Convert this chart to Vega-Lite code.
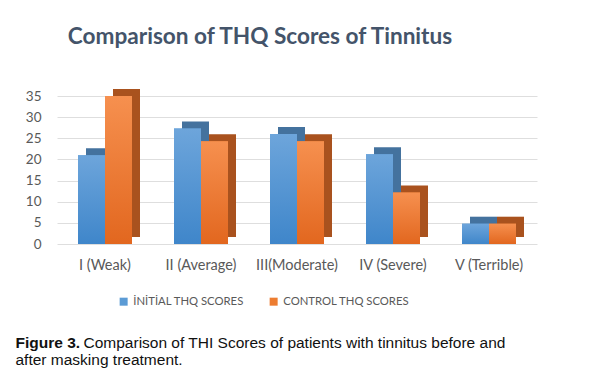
{
  "$schema": "https://vega.github.io/schema/vega-lite/v6.json",
  "autosize": {"type": "none"},
  "width": 480,
  "height": 148,
  "padding": {"left": 57, "top": 96, "right": 56, "bottom": 139},
  "background": "white",
  "title": {
    "text": "Comparison of THQ Scores of Tinnitus",
    "font": "Lato",
    "fontSize": 22.6,
    "fontWeight": "bold",
    "color": "#44546A",
    "anchor": "middle",
    "dx": -37,
    "offset": 40
  },
  "data": {
    "values": [
      {"grade": "I (Weak)", "series": "İNİTİAL THQ SCORES", "score": 21},
      {"grade": "I (Weak)", "series": "CONTROL THQ SCORES", "score": 35},
      {"grade": "II (Average)", "series": "İNİTİAL THQ SCORES", "score": 27.3},
      {"grade": "II (Average)", "series": "CONTROL THQ SCORES", "score": 24.3},
      {"grade": "III(Moderate)", "series": "İNİTİAL THQ SCORES", "score": 26},
      {"grade": "III(Moderate)", "series": "CONTROL THQ SCORES", "score": 24.3},
      {"grade": "IV (Severe)", "series": "İNİTİAL THQ SCORES", "score": 21.2},
      {"grade": "IV (Severe)", "series": "CONTROL THQ SCORES", "score": 12.2},
      {"grade": "V (Terrible)", "series": "İNİTİAL THQ SCORES", "score": 4.8},
      {"grade": "V (Terrible)", "series": "CONTROL THQ SCORES", "score": 4.8}
    ]
  },
  "encoding": {
    "x": {
      "field": "grade",
      "type": "nominal",
      "sort": null,
      "scale": {"paddingInner": 0.4375, "paddingOuter": 0.21875},
      "axis": {
        "title": "Comparison of THI Scores of patients with tinnitus before and",
        "titleX": 26,
        "titleY": 103,
        "titleAlign": "left",
        "titleAnchor": null,
        "titleBaseline": "alphabetic",
        "titleFont": "Liberation Sans",
        "titleFontSize": 15.5,
        "titleFontWeight": "normal",
        "titleColor": "#111111",
        "labelAngle": 0,
        "labelFont": "Lato",
        "labelFontSize": 14.5,
        "labelColor": "#595959",
        "labelPadding": 14,
        "domain": false,
        "ticks": false,
        "grid": false
      }
    }
  },
  "layer": [
    {
      "mark": {"type": "bar", "yOffset": -7},
      "encoding": {
        "xOffset": {
          "field": "series",
          "type": "nominal",
          "scale": {"domain": ["İNİTİAL THQ SCORES", "CONTROL THQ SCORES"], "range": [8, 62], "paddingInner": 0, "paddingOuter": 0}
        },
        "y": {
          "field": "score",
          "type": "quantitative",
          "scale": {"domain": [0, 35], "nice": false},
          "axis": {
            "orient": "left",
            "values": [0, 5, 10, 15, 20, 25, 30, 35],
            "title": "Figure 3.",
            "titleAngle": 0,
            "titleX": -42,
            "titleY": 251,
            "titleAlign": "left",
            "titleAnchor": null,
            "titleBaseline": "alphabetic",
            "titleFont": "Liberation Sans",
            "titleFontSize": 15.5,
            "titleFontWeight": "bold",
            "titleColor": "#111111",
            "labelFont": "Lato",
            "labelFontSize": 13.5,
            "labelColor": "#595959",
            "labelPadding": 16,
            "domain": false,
            "ticks": false,
            "grid": true,
            "gridColor": "#DEDEDE",
            "gridWidth": 1
          }
        },
        "color": {
          "field": "series",
          "type": "nominal",
          "scale": {"domain": ["İNİTİAL THQ SCORES", "CONTROL THQ SCORES"], "range": ["#44729E", "#A9521E"]},
          "legend": null
        }
      }
    },
    {
      "mark": {"type": "bar"},
      "encoding": {
        "xOffset": {
          "field": "series",
          "type": "nominal",
          "scale": {"domain": ["İNİTİAL THQ SCORES", "CONTROL THQ SCORES"], "paddingInner": 0, "paddingOuter": 0}
        },
        "y": {
          "field": "score",
          "type": "quantitative",
          "scale": {"domain": [0, 35], "nice": false},
          "axis": {
            "orient": "right",
            "title": "after masking treatment.",
            "titleAngle": 0,
            "titleX": -522,
            "titleY": 268,
            "titleAlign": "left",
            "titleAnchor": null,
            "titleBaseline": "alphabetic",
            "titleFont": "Liberation Sans",
            "titleFontSize": 15.5,
            "titleFontWeight": "normal",
            "titleColor": "#111111",
            "labels": false,
            "domain": false,
            "ticks": false,
            "grid": false
          }
        },
        "color": {
          "field": "series",
          "type": "nominal",
          "scale": {"domain": ["İNİTİAL THQ SCORES", "CONTROL THQ SCORES"], "range": ["#5B9BD5", "#ED7D31"]},
          "legend": {
            "orient": "none",
            "direction": "horizontal",
            "legendX": 61,
            "legendY": 200,
            "title": null,
            "symbolType": "square",
            "symbolSize": 64,
            "symbolStrokeWidth": 0,
            "labelFont": "Lato",
            "labelFontSize": 11.3,
            "labelColor": "#595959",
            "labelOffset": 4,
            "columnPadding": 24
          }
        }
      }
    },
    {
      "transform": [{"filter": "datum.series === 'İNİTİAL THQ SCORES'"}],
      "mark": {
        "type": "bar",
        "color": {"gradient": "linear", "x1": 0, "y1": 0, "x2": 0, "y2": 1, "stops": [{"offset": 0, "color": "#6DA5DB"}, {"offset": 1, "color": "#3F86CA"}]}
      },
      "encoding": {
        "xOffset": {
          "field": "series",
          "type": "nominal",
          "scale": {"domain": ["İNİTİAL THQ SCORES", "CONTROL THQ SCORES"], "paddingInner": 0, "paddingOuter": 0}
        },
        "y": {
          "field": "score",
          "type": "quantitative",
          "scale": {"domain": [0, 35], "nice": false},
          "axis": null
        }
      }
    },
    {
      "transform": [{"filter": "datum.series === 'CONTROL THQ SCORES'"}],
      "mark": {
        "type": "bar",
        "color": {"gradient": "linear", "x1": 0, "y1": 0, "x2": 0, "y2": 1, "stops": [{"offset": 0, "color": "#F6904F"}, {"offset": 1, "color": "#E2671F"}]}
      },
      "encoding": {
        "xOffset": {
          "field": "series",
          "type": "nominal",
          "scale": {"domain": ["İNİTİAL THQ SCORES", "CONTROL THQ SCORES"], "paddingInner": 0, "paddingOuter": 0}
        },
        "y": {
          "field": "score",
          "type": "quantitative",
          "scale": {"domain": [0, 35], "nice": false},
          "axis": null
        }
      }
    }
  ],
  "resolve": {"scale": {"y": "independent", "color": "independent", "xOffset": "independent"}, "axis": {"y": "independent"}},
  "config": {"view": {"stroke": null}}
}
